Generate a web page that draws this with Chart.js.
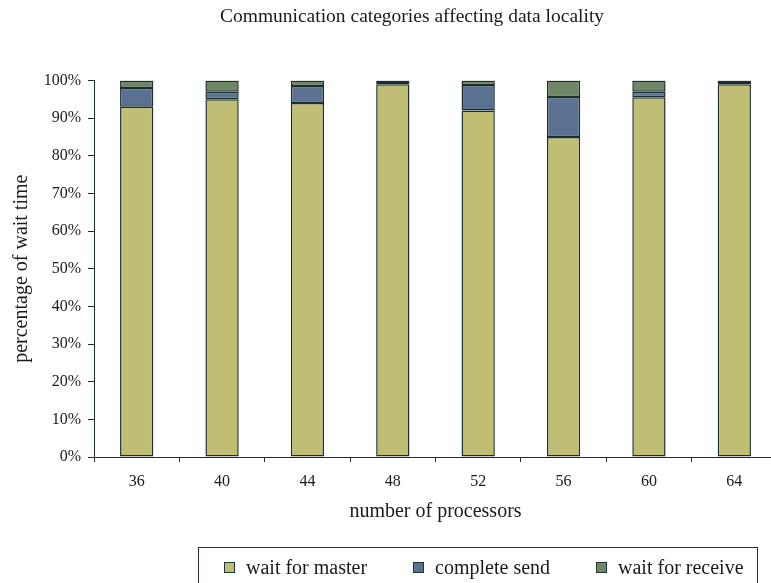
<!DOCTYPE html>
<html>
<head>
<meta charset="utf-8">
<title>Communication categories affecting data locality</title>
<script src="https://cdn.jsdelivr.net/npm/chart.js@4.4.1/dist/chart.umd.min.js"></script>
<style>
  html, body { margin: 0; padding: 0; background: #ffffff; overflow: hidden; }
  #wrap { position: relative; width: 771px; height: 583px; overflow: hidden; }
  #chart { position: absolute; left: 0; top: 0; }
  #legend {
    position: absolute; left: 198px; top: 547px; width: 560px; height: 40px;
    box-sizing: border-box; border: 1px solid #1f3533;
    display: flex; align-items: center; padding-left: 25px;
    font-family: "Liberation Serif", "Times New Roman", serif; font-size: 20px; color: #1a1a1a;
  }
  #legend .item { display: flex; align-items: center; margin-right: 46px; white-space: nowrap; }
  #legend .swatch { width: 11px; height: 11px; box-sizing: border-box; border: 1px solid #1f3533; margin-right: 11px; }
</style>
</head>
<body>
<div id="wrap">
  <canvas id="chart" width="824" height="583"></canvas>
  <div id="legend"></div>
</div>
<script>
// Processor counts on the x axis
const processors = ['36', '40', '44', '48', '52', '56', '60', '64'];

// Share of wait time per category (percent)
const waitForMaster  = [93, 95, 94, 99, 92, 85, 95.5, 99];
const completeSend   = [5, 2, 4.5, 0.3, 6.8, 10.6, 1.5, 0.3];
const waitForReceive = [2, 3, 1.5, 0.7, 1.2, 4.4, 3, 0.7];

const seriesNames = ['wait for master', 'complete send', 'wait for receive'];
const seriesColors = ['#c0bd74', '#5b7191', '#6f8767'];

const ink = '#1a2f2c';
const textColor = '#1a1a1a';
const serif = '"Liberation Serif", "Times New Roman", serif';

const seriesValues = [waitForMaster, completeSend, waitForReceive];
const datasets = seriesNames.map((name, i) => ({
  label: name,
  data: seriesValues[i],
  backgroundColor: seriesColors[i],
  borderColor: ink,
  borderWidth: 1.5,
  borderSkipped: false,
  categoryPercentage: 1,
  barPercentage: 0.39
}));

const chart = new Chart(document.getElementById('chart'), {
  type: 'bar',
  data: { labels: processors, datasets },
  options: {
    responsive: false,
    animation: false,
    devicePixelRatio: 1,
    layout: { padding: { left: 0, right: 0, top: 0, bottom: 56 } },
    plugins: {
      legend: { display: false },
      tooltip: { enabled: false },
      title: {
        display: true,
        text: 'Communication categories affecting data locality',
        color: textColor,
        font: { family: serif, size: 19.5, weight: 'normal' },
        padding: { top: 5, bottom: 52 }
      }
    },
    scales: {
      x: {
        stacked: true,
        grid: { display: true, drawOnChartArea: false, drawTicks: true, tickLength: 5, color: ink, offset: true },
        border: { display: true, color: ink, width: 1 },
        ticks: { color: textColor, padding: 10, font: { family: serif, size: 16 } },
        title: {
          display: true,
          text: 'number of processors',
          color: textColor,
          font: { family: serif, size: 20 },
          padding: { top: 0, bottom: 3 }
        },
        afterFit: (scale) => { scale.height = 70; }
      },
      y: {
        stacked: true,
        min: 0,
        max: 100,
        grid: { display: true, drawOnChartArea: false, drawTicks: true, tickLength: 6, color: ink },
        border: { display: true, color: ink, width: 1 },
        ticks: {
          stepSize: 10,
          color: textColor,
          padding: 7,
          font: { family: serif, size: 16 },
          callback: (v) => v + '%'
        },
        title: {
          display: true,
          text: 'percentage of wait time',
          color: textColor,
          font: { family: serif, size: 20 },
          padding: { top: 10, bottom: 0 }
        },
        afterFit: (scale) => { scale.width = 94; }
      },
      // empty right-hand gutter so the plot ends where the page is cut
      gutter: {
        type: 'linear',
        position: 'right',
        display: true,
        grid: { display: false, drawTicks: false },
        border: { display: false },
        ticks: { display: false },
        afterFit: (scale) => { scale.width = 47; }
      }
    }
  }
});

// HTML legend built from the chart's datasets
const legendEl = document.getElementById('legend');
chart.data.datasets.forEach((ds) => {
  const item = document.createElement('span');
  item.className = 'item';
  const sw = document.createElement('span');
  sw.className = 'swatch';
  sw.style.background = ds.backgroundColor;
  const label = document.createElement('span');
  label.textContent = ds.label;
  item.appendChild(sw);
  item.appendChild(label);
  legendEl.appendChild(item);
});
</script>
</body>
</html>
